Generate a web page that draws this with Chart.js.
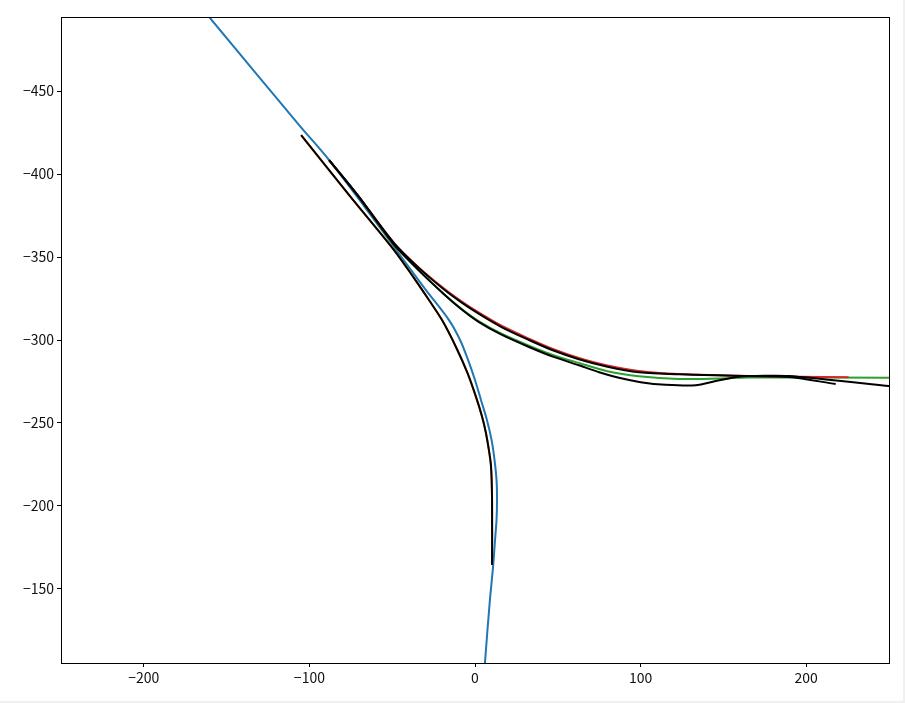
<!DOCTYPE html>
<html>
<head>
<meta charset="utf-8">
<script src="https://cdn.jsdelivr.net/npm/chart.js@4.4.1/dist/chart.umd.min.js"></script>
<style>
  html, body { margin: 0; padding: 0; background: #f0f0f0; }
  #wrap { width: 903px; height: 701px; background: #fff; }
</style>
</head>
<body>
<div id="wrap"><canvas id="c" width="903" height="701"></canvas></div>
<script>
// --- DATA ---
const xTicks = [-200, -100, 0, 100, 200];
const yTicks = [-450, -400, -350, -300, -250, -200, -150];

// lane centre line (blue)
const blueX = [-178.6, -160.5, -106.2, -88.1, -67.0, -44.0, -29.6, -15.7, -9.0, -4.2, 0.0, 3.6, 7.2, 10.0, 11.8, 13.0, 13.3, 13.0, 12.1, 10.9, 9.0, 6.0, 5.4];
const blueY = [-516.9, -494.6, -429.5, -408.4, -380.7, -349.4, -330.1, -312.0, -300.0, -288.0, -275.9, -263.9, -251.8, -239.8, -227.7, -215.7, -203.6, -191.6, -179.5, -163.3, -143.4, -105.4, -95.2];

// left turn path (orange)
const orangeX = [-105.0, -76.0, -48.9, -36.8, -27.8, -19.9, -11.5, -4.5, 0.6, 4.2, 6.6, 8.5, 9.7, 10.3, 10.3];
const orangeY = [-423.5, -387.3, -354.2, -337.3, -324.1, -312.0, -295.8, -280.0, -265.7, -254.0, -244.0, -233.0, -223.5, -203.6, -164.5];

// straight path (red)
const redX = [-88.1, -70.0, -48.9, -33.8, -18.7, -8.0, 2.4, 16.0, 32.6, 47.0, 62.7, 80.0, 98.9, 123.1, 165.3, 225.6];
const redY = [-408.4, -386.1, -358.4, -343.6, -331.0, -323.2, -316.5, -308.6, -300.8, -294.6, -289.2, -284.6, -281.3, -279.5, -278.3, -277.5];

// straight path (green)
const greenX = [-88.1, -70.0, -48.9, -33.8, -18.7, -8.0, 2.4, 16.0, 32.6, 47.0, 62.7, 80.0, 98.9, 123.1, 147.2, 165.3, 260.0];
const greenY = [-408.4, -386.1, -357.4, -341.8, -327.6, -318.6, -311.2, -303.8, -296.6, -291.0, -286.2, -281.2, -278.2, -276.5, -276.8, -277.4, -277.3];

// predictions (black)
const predAX = orangeX;
const predAY = orangeY;
const predBX = [-88.1, -70.0, -48.9, -33.8, -18.7, -8.0, 2.4, 16.0, 32.6, 47.0, 62.7, 80.0, 98.9, 123.1, 165.3, 189.4, 217.8];
const predBY = [-408.4, -386.1, -358.4, -343.3, -330.4, -322.5, -315.7, -307.8, -300.0, -293.8, -288.4, -283.9, -280.6, -279.3, -278.3, -277.7, -273.5];
const predCX = [-88.1, -70.0, -48.9, -33.8, -18.7, -8.0, 2.4, 16.0, 32.6, 47.0, 62.7, 75.0, 86.9, 100.0, 115.2, 133.3, 146.0, 159.3, 189.4, 255.8];
const predCY = [-408.4, -386.1, -357.4, -341.8, -327.6, -318.4, -310.8, -303.2, -295.8, -290.0, -284.8, -280.6, -277.2, -274.6, -273.0, -272.7, -275.4, -277.9, -278.3, -271.7];

const pts = (xs, ys) => xs.map((x, i) => ({ x: x, y: ys[i] }));

function line(xs, ys, color, order, tension) {
    return {
        data: pts(xs, ys),
        borderColor: color,
        borderWidth: 2,
        pointRadius: 0,
        showLine: true,
        fill: false,
        tension: tension,
        order: order
    };
}

// frame round the plot area
const frame = {
    id: 'frame',
    afterDraw(chart) {
        const a = chart.chartArea, ctx = chart.ctx;
        ctx.save();
        ctx.strokeStyle = '#000';
        ctx.lineWidth = 1;
        ctx.strokeRect(Math.round(a.left) + 0.5, Math.round(a.top) + 0.5, Math.round(a.right - a.left), Math.round(a.bottom - a.top));
        ctx.restore();
    }
};

const tickFont = { family: '"Noto Sans CJK JP", "Noto Sans", sans-serif', size: 14 };
const fmt = v => (v < 0 ? '\u2212' + Math.abs(v) : '' + v);

new Chart(document.getElementById('c'), {
    type: 'scatter',
    data: {
        datasets: [
            line(predAX, predAY, '#000000', 0, 0.3),
            line(predBX, predBY, '#000000', 0, 0.3),
            line(predCX, predCY, '#000000', 0, 0.2),
            line(redX, redY, '#d62728', 1, 0.3),
            line(greenX, greenY, '#2ca02c', 1, 0.3),
            line(orangeX, orangeY, '#ff7f0e', 1, 0.3),
            line(blueX, blueY, '#1f77b4', 2, 0.3)
        ]
    },
    options: {
        responsive: false,
        animation: false,
        layout: { padding: { top: 17, right: 14, left: 0, bottom: 0 } },
        plugins: { legend: { display: false }, tooltip: { enabled: false } },
        scales: {
            x: {
                min: -250, max: 250,
                afterBuildTicks: s => { s.ticks = xTicks.map(v => ({ value: v })); },
                afterFit: s => { s.height = 38; },
                grid: { display: true, drawOnChartArea: false, drawTicks: true, tickLength: 4, tickColor: '#000' },
                border: { display: false },
                ticks: { color: '#111', font: tickFont, padding: 2, maxRotation: 0, callback: fmt }
            },
            y: {
                reverse: true,
                min: -494.6, max: -105.4,
                afterBuildTicks: s => { s.ticks = yTicks.map(v => ({ value: v })); },
                afterFit: s => { s.width = 61; },
                grid: { display: true, drawOnChartArea: false, drawTicks: true, tickLength: 4, tickColor: '#000' },
                border: { display: false },
                ticks: { color: '#111', font: tickFont, padding: 3, callback: fmt }
            }
        }
    },
    plugins: [frame]
});
</script>
</body>
</html>
